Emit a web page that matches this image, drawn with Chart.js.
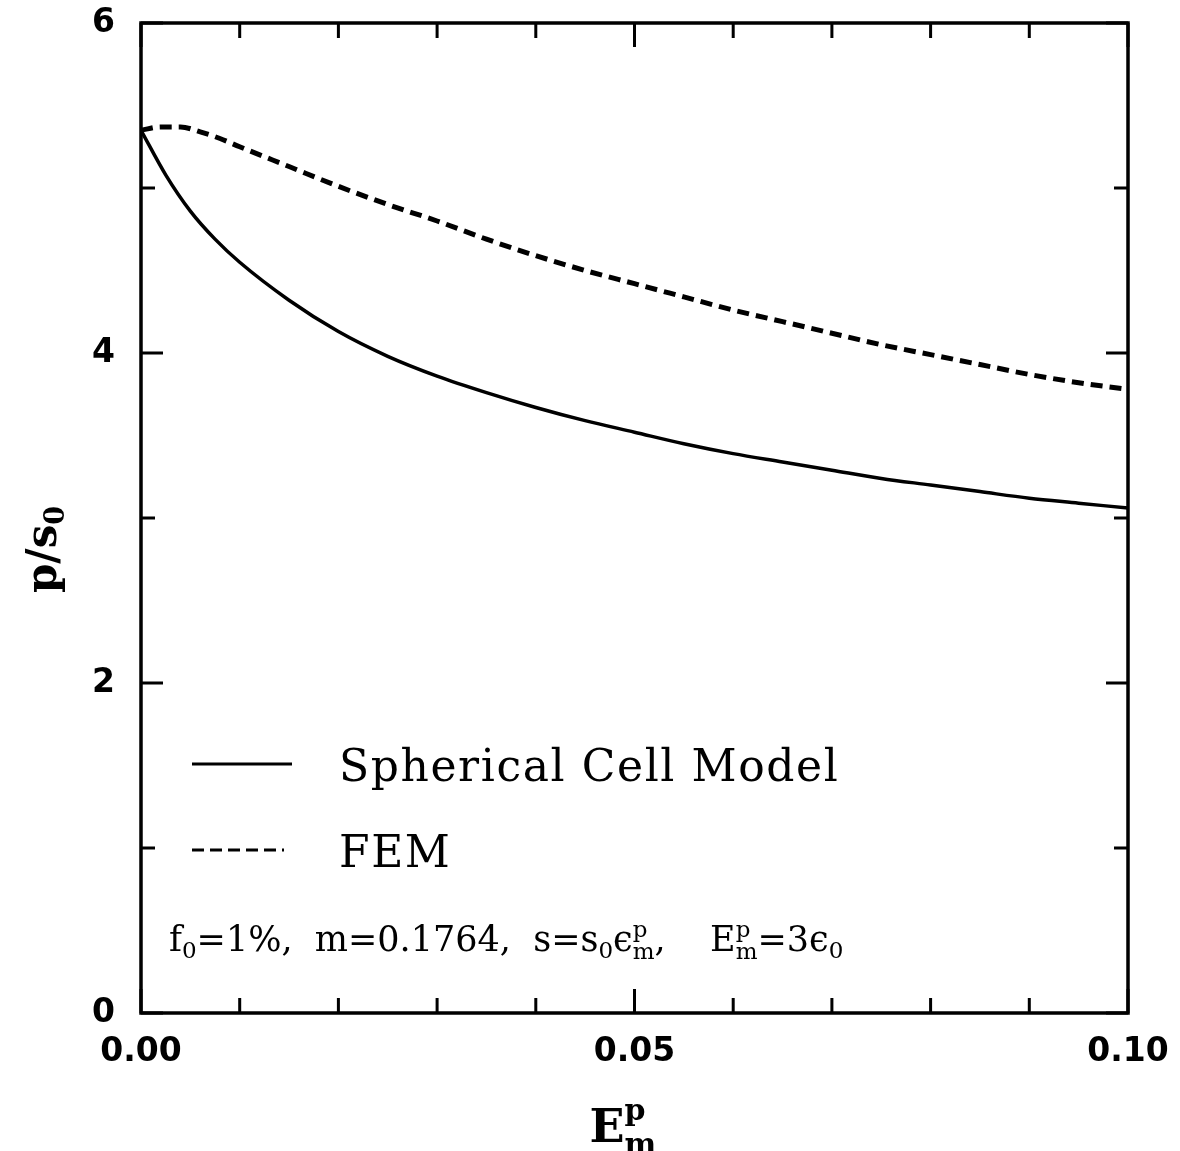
<!DOCTYPE html>
<html>
<head>
<meta charset="utf-8">
<script src="https://cdn.jsdelivr.net/npm/chart.js@4"></script>
<style>
  html, body { margin: 0; padding: 0; background: #fff; }
  #wrap { width: 1180px; height: 1151px; }
</style>
</head>
<body>
<div id="wrap"><canvas id="myChart"></canvas></div>
<script>
// strain values (E^p_m) and p/s0
var cellX = [0, 0.0025, 0.005, 0.0075, 0.01, 0.015, 0.02, 0.025, 0.03, 0.035, 0.04, 0.045, 0.05,
             0.055, 0.06, 0.065, 0.07, 0.075, 0.08, 0.085, 0.09, 0.095, 0.10];
var cellY = [5.35, 5.08, 4.86, 4.69, 4.55, 4.32, 4.13, 3.98, 3.86, 3.76, 3.67, 3.59, 3.52,
             3.45, 3.39, 3.34, 3.29, 3.24, 3.20, 3.16, 3.12, 3.09, 3.06];

var femX = [0, 0.002, 0.004, 0.006, 0.008, 0.01, 0.015, 0.02, 0.025, 0.03, 0.035, 0.04, 0.045, 0.05,
            0.055, 0.06, 0.065, 0.07, 0.075, 0.08, 0.085, 0.09, 0.095, 0.10];
var femY = [5.35, 5.37, 5.37, 5.34, 5.30, 5.25, 5.13, 5.01, 4.90, 4.80, 4.69, 4.59, 4.50, 4.42,
            4.34, 4.26, 4.19, 4.12, 4.05, 3.99, 3.93, 3.87, 3.82, 3.78];

var xLabels = ["0.00", "0.05", "0.10"];   // labelled every 0.05, minor ticks every 0.01
var yLabels = ["0", "2", "4", "6"];       // labelled every 2, minor ticks every 1
var seriesNames = ["Spherical Cell Model", "FEM"];

function pts(xs, ys) {
  return xs.map(function (x, i) { return { x: x, y: ys[i] }; });
}

var serif = "'DejaVu Serif', serif";
var sans = "'DejaVu Sans', sans-serif";

// draws text pieces; piece = {t, size, dy, stack}
function rich(ctx, x, y, parts, weight) {
  var pending = 0;
  parts.forEach(function (p) {
    ctx.font = (weight || '') + ' ' + p.size + "px " + serif;
    ctx.fillText(p.t, x, y + (p.dy || 0));
    var w = ctx.measureText(p.t).width;
    if (p.stack) { pending = Math.max(pending, w); }
    else { x += Math.max(w, pending); pending = 0; }
  });
  return x;
}

var frame = {
  id: 'frame',
  afterDraw: function (chart) {
    var ctx = chart.ctx, a = chart.chartArea;
    var xs = chart.scales.x, ys = chart.scales.y;
    ctx.save();
    ctx.strokeStyle = '#000';
    ctx.fillStyle = '#000';
    ctx.lineWidth = 3.5;
    ctx.strokeRect(a.left, a.top, a.right - a.left, a.bottom - a.top);

    // inward ticks on all four sides
    ctx.lineWidth = 3;
    xs.ticks.forEach(function (t) {
      var px = xs.getPixelForValue(t.value);
      var len = (Math.round(t.value * 100) % 5 === 0) ? 24 : 15;
      ctx.beginPath();
      ctx.moveTo(px, a.bottom); ctx.lineTo(px, a.bottom - len);
      ctx.moveTo(px, a.top); ctx.lineTo(px, a.top + len);
      ctx.stroke();
    });
    ys.ticks.forEach(function (t) {
      var py = ys.getPixelForValue(t.value);
      var len = (Math.round(t.value) % 2 === 0) ? 22 : 14;
      ctx.beginPath();
      ctx.moveTo(a.left, py); ctx.lineTo(a.left + len, py);
      ctx.moveTo(a.right, py); ctx.lineTo(a.right - len, py);
      ctx.stroke();
    });

    // legend
    ctx.textBaseline = 'alphabetic';
    chart.data.datasets.forEach(function (ds, i) {
      var ly = a.top + 741 + i * 86;
      ctx.save();
      ctx.lineWidth = 3;
      ctx.setLineDash(ds.borderDash && ds.borderDash.length ? [12, 6] : []);
      ctx.beginPath();
      ctx.moveTo(a.left + 51, ly);
      ctx.lineTo(a.left + (i ? 143 : 151), ly);
      ctx.stroke();
      ctx.restore();
      ctx.save();
      ctx.letterSpacing = '1.6px';
      ctx.font = "44px " + serif;
      ctx.fillText(ds.label, a.left + 198, ly + 17);
      ctx.restore();
    });

    // parameter note
    var ny = a.top + 928;
    rich(ctx, a.left + 28, ny, [
      { t: 'f', size: 35 }, { t: '0', size: 23, dy: 7 }, { t: '=1%,  m=0.1764,  s=s', size: 35 },
      { t: '0', size: 23, dy: 7 }, { t: '\u03f5', size: 35 },
      { t: 'p', size: 23, dy: -14, stack: true }, { t: 'm', size: 23, dy: 8 },
      { t: ',    E', size: 35 },
      { t: 'p', size: 23, dy: -14, stack: true }, { t: 'm', size: 23, dy: 8 },
      { t: '=3\u03f5', size: 35 }, { t: '0', size: 23, dy: 7 }
    ]);

    // x axis title E^p_m
    var cx = (a.left + a.right) / 2;
    rich(ctx, cx - 45, 1142, [
      { t: 'E', size: 46 },
      { t: 'p', size: 30, dy: -22, stack: true }, { t: 'm', size: 30, dy: 12 }
    ], 'bold');

    // y axis title p/s0
    ctx.save();
    ctx.translate(56, 548);
    ctx.rotate(-Math.PI / 2);
    rich(ctx, -45, 0, [
      { t: 'p/s', size: 42 }, { t: '0', size: 27, dy: 8 }
    ], 'bold');
    ctx.restore();

    ctx.restore();
  }
};

// keep tick labels from pushing the plot area away from the page edges
function noOverhang(s) {
  s.paddingTop = 0; s.paddingBottom = 0; s.paddingLeft = 0; s.paddingRight = 0;
}

var ctx = document.getElementById('myChart').getContext('2d');

var myChart = new Chart(ctx, {
  type: 'line',
  data: {
    datasets: [
      {
        label: seriesNames[0],
        data: pts(cellX, cellY),
        borderColor: '#000',
        borderWidth: 3.5,
        pointRadius: 0,
        cubicInterpolationMode: 'monotone'
      },
      {
        label: seriesNames[1],
        data: pts(femX, femY),
        borderColor: '#000',
        borderWidth: 5,
        borderDash: [12, 7],
        pointRadius: 0,
        cubicInterpolationMode: 'monotone'
      }
    ]
  },
  options: {
    responsive: true,
    maintainAspectRatio: false,
    animation: false,
    layout: { padding: { top: 23, right: 52, left: 0, bottom: 0 } },
    plugins: { legend: { display: false }, tooltip: { enabled: false } },
    scales: {
      x: {
        type: 'linear',
        min: 0, max: 0.1,
        grid: { display: false, drawTicks: false },
        border: { display: false },
        afterFit: function (s) { s.height = 138; noOverhang(s); },
        ticks: {
          stepSize: 0.01,
          padding: 20,
          color: '#000',
          font: { family: sans, size: 33, weight: 'bold' },
          callback: function (v) {
            var k = Math.round(v * 100);
            return k % 5 === 0 ? xLabels[k / 5] : '';
          }
        }
      },
      y: {
        min: 0, max: 6,
        grid: { display: false, drawTicks: false },
        border: { display: false },
        afterFit: function (s) { s.width = 141; noOverhang(s); },
        ticks: {
          stepSize: 1,
          padding: 26,
          color: '#000',
          font: { family: sans, size: 33, weight: 'bold' },
          callback: function (v) {
            return Math.round(v) % 2 === 0 ? yLabels[Math.round(v) / 2] : '';
          }
        }
      }
    }
  },
  plugins: [frame]
});
</script>
</body>
</html>
